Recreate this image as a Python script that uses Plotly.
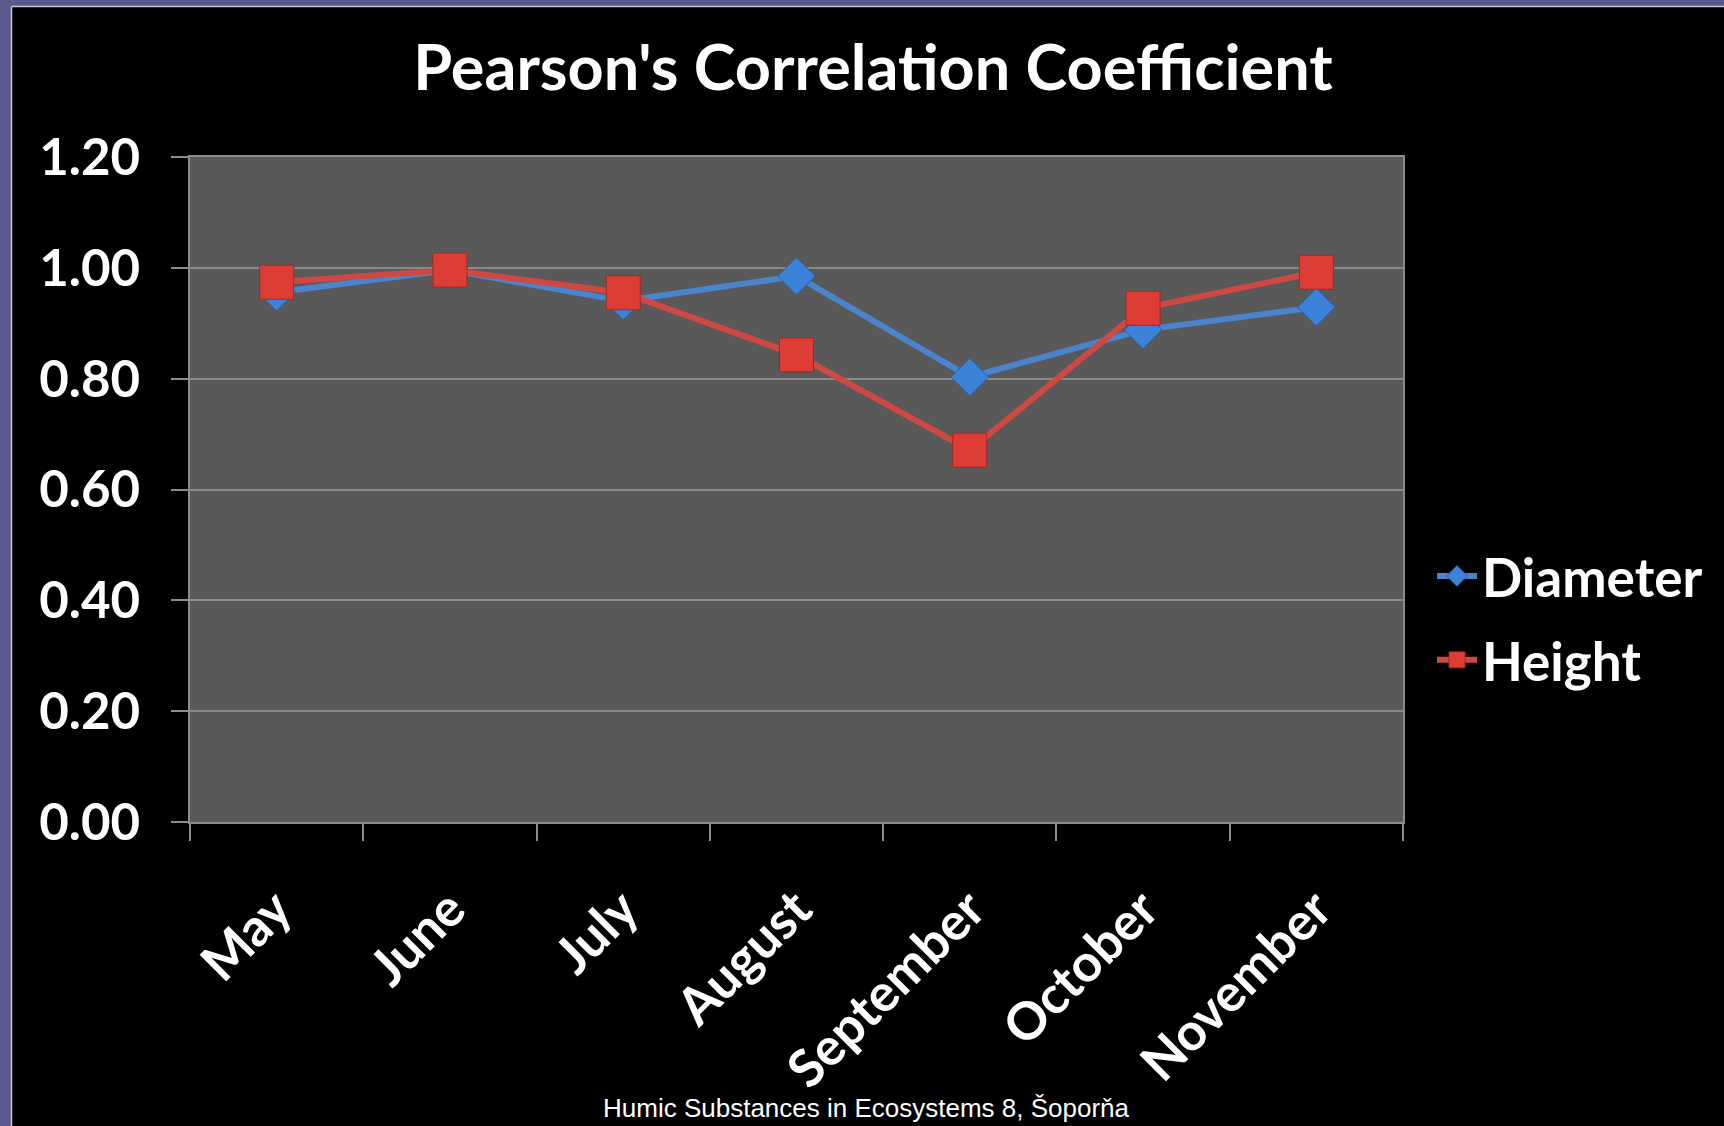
"""Pearson's correlation coefficient by month, Diameter vs Height."""

import plotly.graph_objects as go

MONTHS = ["May", "June", "July", "August", "September", "October", "November"]
DIAMETER = [0.956, 0.996, 0.940, 0.985, 0.803, 0.888, 0.929]
HEIGHT = [0.974, 0.996, 0.955, 0.843, 0.671, 0.927, 0.992]
Y_TICKS = [0.0, 0.2, 0.4, 0.6, 0.8, 1.0, 1.2]

W, H = 1724, 1126
L, R, T, B = 190, 321, 157, 304
PW, PH = W - L - R, H - T - B

TEXT_FONT = "Lato"
SLIDE_BG = "#5a5a8c"


def px_x(x):
    return (x - L) / PW


def px_y(y):
    return 1 - (y - T) / PH


fig = go.Figure()
fig.add_trace(
    go.Scatter(
        x=MONTHS,
        y=DIAMETER,
        name="Diameter",
        legendgroup="d",
        mode="lines+markers",
        line=dict(color="#4a84cc", width=6),
        marker=dict(symbol="diamond", size=29, color="#3c82d8",
                    line=dict(color="#2a5f9e", width=1)),
    )
)
fig.add_trace(
    go.Scatter(
        x=MONTHS,
        y=HEIGHT,
        name="Height",
        legendgroup="h",
        mode="lines+markers",
        line=dict(color="#cf4944", width=6),
        marker=dict(symbol="square", size=34, color="#de3d36",
                    line=dict(color="#a02a25", width=1)),
    )
)

# slide frame: purple strip on the left and top, black chart area
fig.add_shape(type="rect", xref="paper", yref="paper",
              x0=px_x(0), x1=px_x(11), y0=px_y(H), y1=px_y(0),
              fillcolor=SLIDE_BG, line_width=0, layer="below")
fig.add_shape(type="rect", xref="paper", yref="paper",
              x0=px_x(0), x1=px_x(W), y0=px_y(6), y1=px_y(0),
              fillcolor=SLIDE_BG, line_width=0, layer="below")
fig.add_shape(type="line", xref="paper", yref="paper",
              x0=px_x(11.5), x1=px_x(11.5), y0=px_y(H), y1=px_y(6.5),
              line=dict(color="#c8c8d8", width=1.5), layer="below")
fig.add_shape(type="line", xref="paper", yref="paper",
              x0=px_x(11.5), x1=px_x(W), y0=px_y(6.5), y1=px_y(6.5),
              line=dict(color="#c8c8d8", width=1.5), layer="below")

fig.add_annotation(
    text="Humic Substances in Ecosystems 8, Šoporňa",
    xref="paper", yref="paper", x=px_x(866), y=px_y(1108),
    showarrow=False, xanchor="center", yanchor="middle",
    font=dict(family="Liberation Sans", size=26, color="white"),
)

fig.update_layout(
    width=W,
    height=H,
    margin=dict(l=L, r=R, t=T, b=B),
    paper_bgcolor="black",
    plot_bgcolor="#595959",
    title=dict(
        text="<b>Pearson's Correlation Coefficient</b>",
        x=873 / W, xref="container", xanchor="center",
        y=1 - 68 / H, yref="container", yanchor="middle",
        font=dict(family=TEXT_FONT, size=63, color="white"),
    ),
    legend=dict(
        x=px_x(1432), y=px_y(618), xanchor="left", yanchor="middle",
        font=dict(family=TEXT_FONT, size=53, color="white", weight="bold"),
        bgcolor="rgba(0,0,0,0)", itemwidth=40, tracegroupgap=12,
    ),
)
fig.update_xaxes(
    range=[-0.5, len(MONTHS) - 0.5],
    tickangle=-45,
    tickson="boundaries",
    ticks="outside", ticklen=17, tickcolor="#8c8c8c", tickwidth=1.5,
    showline=True, linecolor="#8c8c8c", linewidth=1.5, mirror=True,
    showgrid=False,
    automargin=False,
    tickfont=dict(family=TEXT_FONT, size=52, color="white", weight="bold"),
    ticklabelstandoff=34,
)
fig.update_yaxes(
    range=[0, 1.2],
    tickvals=Y_TICKS,
    tickformat=".2f",
    ticks="outside", ticklen=17, tickcolor="#8c8c8c", tickwidth=1.5,
    showline=True, linecolor="#8c8c8c", linewidth=1.5, mirror=True,
    showgrid=True, gridcolor="#8a8a8a", gridwidth=1.5,
    zeroline=False,
    automargin=False,
    tickfont=dict(family=TEXT_FONT, size=51, color="white", weight="bold"),
    ticklabelstandoff=21,
)

fig.write_html(
    "out.html",
    config={"displayModeBar": False},
    post_script="document.body.style.margin='0';",
)
